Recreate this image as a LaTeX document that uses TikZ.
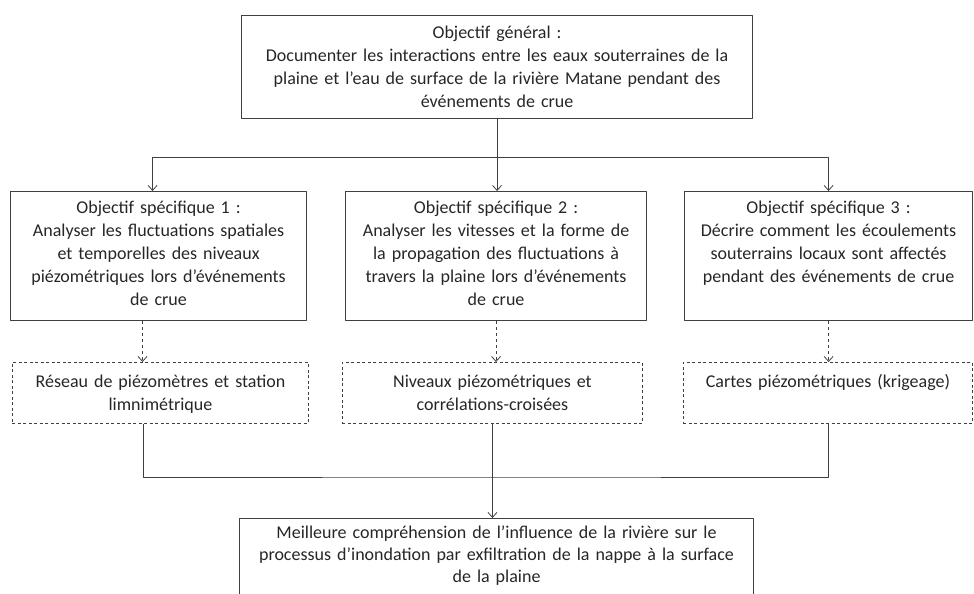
\documentclass[tikz,border=0pt]{standalone}
\usepackage{fontspec}
\setmainfont{Carlito}
\usetikzlibrary{arrows.meta}

\begin{document}
\begin{tikzpicture}[x=1pt,y=-1pt,font=\fontsize{18}{23}\selectfont, line join=round,
	objbox/.style={draw=\trait, line width=1.1pt, align=center, inner sep=4pt, text=black!85, anchor=north west},
	specbox/.style={objbox, text height=18pt, text depth=103pt},
	outbox/.style={draw=\trait, line width=0.9pt, dash pattern=on 3pt off 2.5pt, align=center, inner sep=4pt, text=black!85, text height=21pt, text depth=32pt, anchor=north west},
	fleche/.style={draw=\trait, line width=0.8pt, -{Straight Barb[length=5pt,width=9pt]}}]
	\def\trait{black!75}
	\useasboundingbox (0,0) rectangle (974,594);
	\clip (0,0) rectangle (974,594);
	\node[objbox, text width=503pt, minimum height=103pt] (gen) at (241,15) {Objectif général :\\ Documenter les interactions entre les eaux souterraines de la\\ plaine et l'eau de surface de la rivière Matane pendant des\\ événements de crue};
	\node[specbox, text width=288pt] (s1) at (10,191) {Objectif spécifique 1 :\\ Analyser les fluctuations spatiales\\ et temporelles des niveaux\\ piézométriques lors d'événements\\ de crue};
	\node[specbox, text width=293pt] (s2) at (345,191) {Objectif spécifique 2 :\\ Analyser les vitesses et la forme de\\ la propagation des fluctuations à\\ travers la plaine lors d'événements\\ de crue};
	\node[specbox, text width=280pt] (s3) at (684,191) {Objectif spécifique 3 :\\ Décrire comment les écoulements\\ souterrains locaux sont affectés\\ pendant des événements de crue};
	\node[outbox, text width=288pt] (d1) at (12,362) {Réseau de piézomètres et station\\ limnimétrique};
	\node[outbox, text width=292pt] (d2) at (342,362) {Niveaux piézométriques et\\ corrélations-croisées};
	\node[outbox, text width=281pt] (d3) at (683,362) {Cartes piézométriques (krigeage)};
	\node[objbox, font=\fontsize{18}{22}\selectfont, text width=506pt, text height=16pt, text depth=70pt] (res) at (239,518) {Meilleure compréhension de l'influence de la rivière sur le\\ processus d'inondation par exfiltration de la nappe à la surface\\ de la plaine};
	\coordinate (split) at (gen.south |- 0,157);
	\coordinate (join) at (gen.south |- 0,477);
	\draw[fleche] (gen.south) -- (gen.south |- s2.north);
	\draw[fleche] (split) -| ([xshift=-6pt]s1.north);
	\draw[fleche] (split) -| (s3.north);
	\draw[fleche, dash pattern=on 3pt off 3pt] ([xshift=-16pt]s1.south) -- ([xshift=-16pt]s1.south |- d1.north);
	\draw[fleche, dash pattern=on 3pt off 3pt] (s2.south) -- (s2.south |- d2.north);
	\draw[fleche, dash pattern=on 3pt off 3pt] (s3.south) -- (s3.south |- d3.north);
	\draw[draw=\trait, line width=0.8pt] ([xshift=-17pt]d1.south) |- (join) -| (d3.south);
	\draw[fleche] (d2.south) -- (res.north -| d2.south);
\end{tikzpicture}
\end{document}
